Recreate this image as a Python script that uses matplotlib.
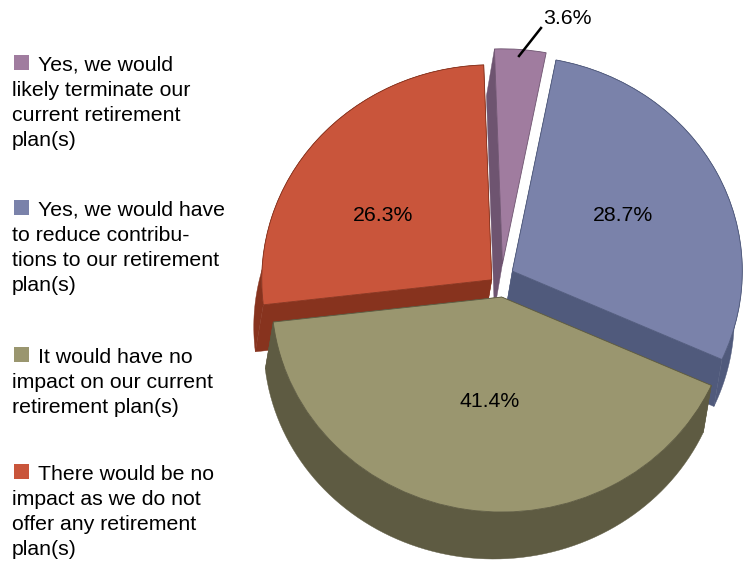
import numpy as np
import matplotlib
matplotlib.use("Agg")
import matplotlib.pyplot as plt
from matplotlib.patches import Polygon

plt.rcParams["font.family"] = ["Liberation Sans", "DejaVu Sans"]

# Slices, clockwise from the top
shares = [3.6, 28.7, 41.4, 26.3]
top_colors = ["#a07c9f", "#7a82aa", "#9a966f", "#c9553b"]
wall_colors = ["#6e5470", "#505a7c", "#5e5b42", "#87331e"]
pull_out = [0.08, 0.07, 0.066, 0.03]
nudge_px = [(1, -2), (-2, -5), (4, 0), (-3, 1)]

legend_lines = [
    ["Yes, we would", "likely terminate our", "current retirement", "plan(s)"],
    ["Yes, we would have", "to reduce contribu-", "tions to our retirement", "plan(s)"],
    ["It would have no", "impact on our current", "retirement plan(s)"],
    ["There would be no", "impact as we do not", "offer any retirement", "plan(s)"],
]
legend_tops = [65, 210, 357, 474]

W, H = 754, 561
CX, CY = 500, 283   # pie centre in pixels
RX, RY = 230, 215   # squashed radii in pixels
DEPTH_X, DEPTH_Y = -8, 47
FONT = 15.3


def px(x, y):
    return (x - CX) / RX, (CY - y) / RY


fig = plt.figure(figsize=(W / 100, H / 100), dpi=100, facecolor="white")
ax = fig.add_axes([0, 0, 1, 1])

wedges, _, autotexts = ax.pie(
    shares,
    explode=pull_out,
    colors=top_colors,
    startangle=92,
    counterclock=False,
    autopct="%.1f%%",
    textprops={"fontsize": FONT, "color": "black"},
)
ax.set_aspect("auto")
x0, y1 = px(0, 0)
x1, y0 = px(W, H)
ax.set_xlim(x0, x1)
ax.set_ylim(y0, y1)

# Back slices first so the front ones sit on top
draw_order = [0, 3, 1, 2]
dx = DEPTH_X / RX
dy = -DEPTH_Y / RY

for rank, i in enumerate(draw_order):
    w = wedges[i]
    base = 2 + rank * 2
    w.set_center((w.center[0] + nudge_px[i][0] / RX, w.center[1] - nudge_px[i][1] / RY))
    w.set_zorder(base + 1)
    w.set_edgecolor(wall_colors[i])
    w.set_linewidth(0.6)

    t = np.radians(np.linspace(w.theta1, w.theta2, 80))
    cx, cy = w.center
    arc = np.column_stack([cx + w.r * np.cos(t), cy + w.r * np.sin(t)])
    apex = np.array([cx, cy])
    shift = np.array([dx, dy])

    # outer rim and the cut faces of the extruded slice
    rim = np.vstack([arc, (arc + shift)[::-1]])
    face_a = np.array([apex, arc[0], arc[0] + shift, apex + shift])
    face_b = np.array([apex, arc[-1], arc[-1] + shift, apex + shift])
    # the small slice only shows its left face
    faces = [face_b] if i == 0 else [rim, face_a, face_b]
    for pts in faces:
        ax.add_patch(Polygon(pts, closed=True, facecolor=wall_colors[i],
                             edgecolor=wall_colors[i], linewidth=0.3, zorder=base))

# Percentage labels
label_pos = [(567, 18), (623, 215), (490, 401), (383, 215)]
for txt, (lx, ly) in zip(autotexts, label_pos):
    txt.set_position(px(lx, ly))
    txt.set_zorder(20)

# Leader for the small slice
ax.plot(*zip(px(519, 56), px(541, 28)), color="black", lw=1.8, zorder=20)

# Legend on the left, wrapped by hand
for lines, top, color in zip(legend_lines, legend_tops, top_colors):
    ax.add_patch(plt.Rectangle(px(14, top + 5), 15 / RX, 15 / RY,
                               facecolor=color, edgecolor="none", zorder=20))
    for n, line in enumerate(lines):
        lx = 38 if n == 0 else 12
        ax.text(*px(lx, top + n * 25.3), line, fontsize=FONT, color="black",
                va="center", ha="left", zorder=20)

fig.savefig("out.png", dpi=100)
